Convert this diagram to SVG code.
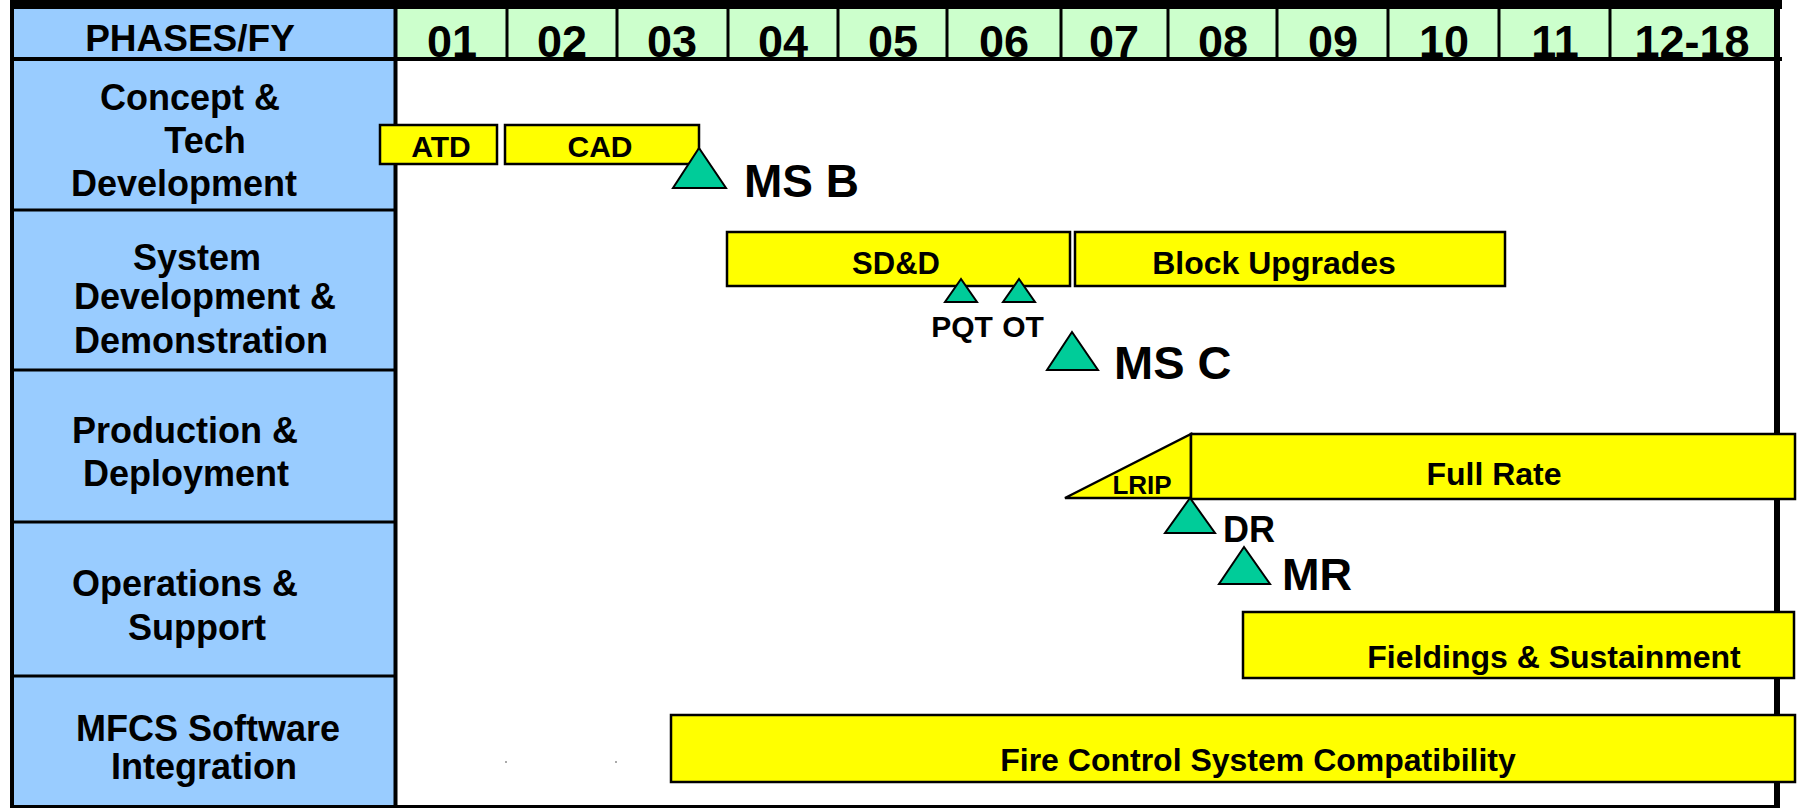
<svg xmlns="http://www.w3.org/2000/svg" width="1803" height="808" viewBox="0 0 1803 808">
<style>
text{font-family:"Liberation Sans",Arial,sans-serif;font-weight:bold;fill:#000}
.lbl{font-size:36px;text-anchor:middle}
.yr{font-size:45px;text-anchor:middle}
.bar{fill:#FFFF00;stroke:#000;stroke-width:2.5}
.ms{fill:#00CC99;stroke:#000;stroke-width:2}
.bt{font-size:32px;text-anchor:middle}
.ln{stroke:#000;fill:none}
</style>
<rect width="1803" height="808" fill="#fff"/>
<g id="grid">
<rect x="12" y="8" width="384" height="798" fill="#99CCFF"/>
<rect x="396" y="8" width="1381" height="50" fill="#CCFFCC"/>
<rect x="10" y="0" width="1772" height="9" fill="#000"/>
<line class="ln" x1="12" y1="0" x2="12" y2="808" stroke-width="4"/>
<line class="ln" x1="395.5" y1="8" x2="395.5" y2="808" stroke-width="4"/>
<line class="ln" x1="1777" y1="0" x2="1777" y2="808" stroke-width="6"/>
<line class="ln" x1="10" y1="59" x2="1782" y2="59" stroke-width="4"/>
<line class="ln" x1="10" y1="806.5" x2="1780" y2="806.5" stroke-width="3"/>
<g stroke="#000" stroke-width="3">
<line x1="12" y1="210" x2="396" y2="210"/>
<line x1="12" y1="370" x2="396" y2="370"/>
<line x1="12" y1="522" x2="396" y2="522"/>
<line x1="12" y1="676" x2="396" y2="676"/>
<line x1="507" y1="8" x2="507" y2="58"/>
<line x1="617" y1="8" x2="617" y2="58"/>
<line x1="728" y1="8" x2="728" y2="58"/>
<line x1="838" y1="8" x2="838" y2="58"/>
<line x1="947" y1="8" x2="947" y2="58"/>
<line x1="1061" y1="8" x2="1061" y2="58"/>
<line x1="1168" y1="8" x2="1168" y2="58"/>
<line x1="1277" y1="8" x2="1277" y2="58"/>
<line x1="1388" y1="8" x2="1388" y2="58"/>
<line x1="1499" y1="8" x2="1499" y2="58"/>
<line x1="1610" y1="8" x2="1610" y2="58"/>
</g>
<rect x="505" y="761" width="2" height="2" fill="#aaa"/>
<rect x="615" y="761" width="2" height="2" fill="#aaa"/>
</g>
<g id="header">
<text class="lbl" x="190" y="51" style="font-size:37px">PHASES/FY</text>
<text class="yr" x="452" y="57">01</text>
<text class="yr" x="562" y="57">02</text>
<text class="yr" x="672" y="57">03</text>
<text class="yr" x="783" y="57">04</text>
<text class="yr" x="893" y="57">05</text>
<text class="yr" x="1004" y="57">06</text>
<text class="yr" x="1114" y="57">07</text>
<text class="yr" x="1223" y="57">08</text>
<text class="yr" x="1333" y="57">09</text>
<text class="yr" x="1444" y="57">10</text>
<text class="yr" x="1555" y="57">11</text>
<text class="yr" x="1692" y="57">12-18</text>
</g>
<g id="phase-concept">
<text class="lbl" x="190" y="110">Concept &amp;</text>
<text class="lbl" x="205" y="153">Tech</text>
<text class="lbl" x="184" y="196">Development</text>
</g>
<g id="phase-sdd">
<text class="lbl" x="197" y="270">System</text>
<text class="lbl" x="205" y="309">Development &amp;</text>
<text class="lbl" x="201" y="353">Demonstration</text>
</g>
<g id="phase-production">
<text class="lbl" x="185" y="443">Production &amp;</text>
<text class="lbl" x="186" y="486">Deployment</text>
</g>
<g id="phase-operations">
<text class="lbl" x="185" y="596">Operations &amp;</text>
<text class="lbl" x="197" y="640">Support</text>
</g>
<g id="phase-mfcs">
<text class="lbl" x="208" y="741">MFCS Software</text>
<text class="lbl" x="204" y="779">Integration</text>
</g>
<g id="atd">
<rect class="bar" x="380" y="125" width="117" height="39"/>
<text class="bt" x="441" y="157" style="font-size:30px">ATD</text>
</g>
<g id="cad">
<rect class="bar" x="505" y="125" width="194" height="39"/>
<text class="bt" x="600" y="157" style="font-size:30px">CAD</text>
</g>
<g id="msb">
<polygon class="ms" points="699,148 673,188 726,188"/>
<text x="744" y="197" style="font-size:46px">MS B</text>
</g>
<g id="sdd">
<rect class="bar" x="727" y="232" width="343" height="54"/>
<text class="bt" x="896" y="274" style="font-size:31px">SD&amp;D</text>
</g>
<g id="block-upgrades">
<rect class="bar" x="1075" y="232" width="430" height="54"/>
<text class="bt" x="1274" y="274">Block Upgrades</text>
</g>
<g id="pqt">
<polygon class="ms" points="961,279 945,302 977,302"/>
<text class="bt" x="962" y="337" style="font-size:30px">PQT</text>
</g>
<g id="ot">
<polygon class="ms" points="1019,279 1003,302 1035,302"/>
<text class="bt" x="1023" y="337" style="font-size:30px">OT</text>
</g>
<g id="msc">
<polygon class="ms" points="1072,332 1047,370 1098,370"/>
<text x="1114" y="379" style="font-size:47px">MS C</text>
</g>
<g id="lrip">
<polygon class="bar" points="1065,498 1191,434 1191,498"/>
<text class="bt" x="1142" y="494" style="font-size:26px">LRIP</text>
</g>
<g id="full-rate">
<rect class="bar" x="1191" y="434" width="604" height="65"/>
<text class="bt" x="1494" y="485">Full Rate</text>
</g>
<g id="dr">
<polygon class="ms" points="1190,498 1165,533 1215,533"/>
<text x="1223" y="542" style="font-size:36px">DR</text>
</g>
<g id="mr">
<polygon class="ms" points="1244,547 1219,584 1270,584"/>
<text x="1282" y="590" style="font-size:45px">MR</text>
</g>
<g id="fieldings">
<rect class="bar" x="1243" y="612" width="551" height="66"/>
<text class="bt" x="1554" y="668">Fieldings &amp; Sustainment</text>
</g>
<g id="fire-control">
<rect class="bar" x="671" y="715" width="1124" height="67"/>
<text class="bt" x="1258" y="771">Fire Control System Compatibility</text>
</g>
<g id="connectors"></g>
</svg>
